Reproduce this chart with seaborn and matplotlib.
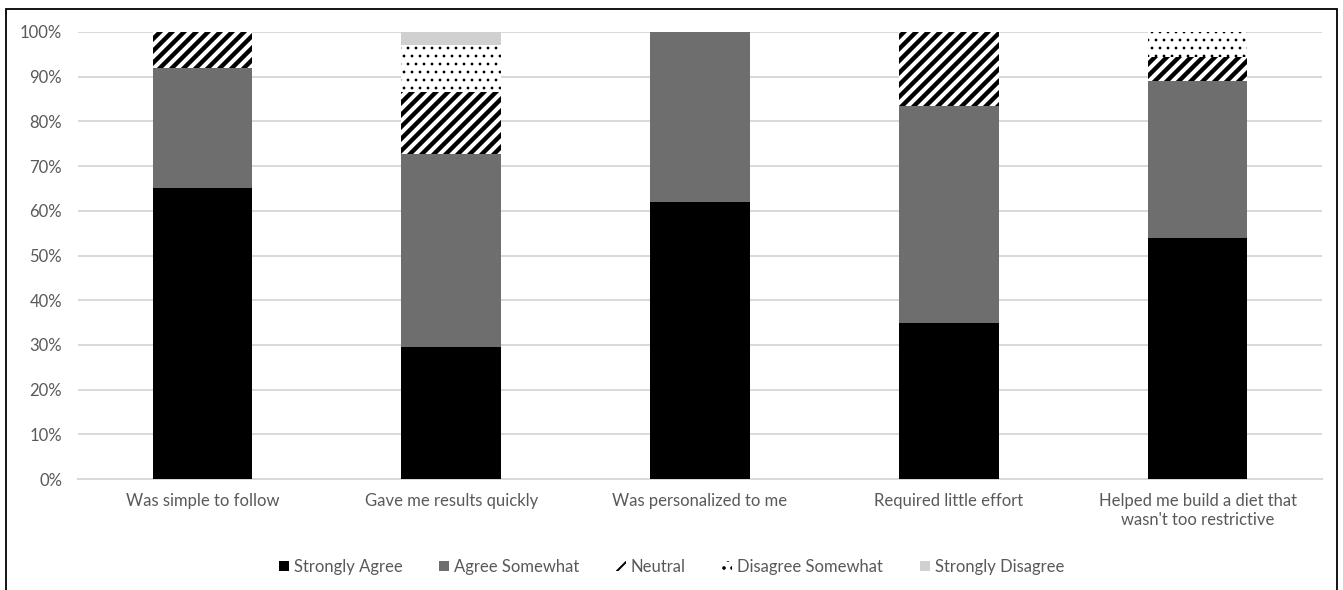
import matplotlib
matplotlib.use("Agg")
import matplotlib.pyplot as plt
from matplotlib.patches import Patch, Rectangle
from matplotlib.ticker import PercentFormatter, MultipleLocator
import seaborn as sns
import numpy as np

# Survey items and response shares (percent of respondents)
categories = [
    "Was simple to follow",
    "Gave me results quickly",
    "Was personalized to me",
    "Required little effort",
    "Helped me build a diet that\nwasn't too restrictive",
]
strongly_agree = [65.0, 29.5, 62.0, 35.0, 54.0]
agree_somewhat = [27.0, 43.3, 38.0, 48.5, 35.0]
neutral = [8.0, 13.7, 0.0, 16.5, 5.5]
disagree_somewhat = [0.0, 10.6, 0.0, 0.0, 5.5]
strongly_disagree = [0.0, 2.9, 0.0, 0.0, 0.0]

series_names = ["Strongly Agree", "Agree Somewhat", "Neutral",
                "Disagree Somewhat", "Strongly Disagree"]
series_values = [strongly_agree, agree_somewhat, neutral,
                 disagree_somewhat, strongly_disagree]

DPI = 144
W, H = 1343, 590
TEXT = "#595959"
GRID = "#d9d9d9"

sns.set_style("white")
plt.rcParams["font.family"] = ["Lato", "DejaVu Sans"]

styles = [
    dict(color="#000000", hatch=None, lw=1.0),
    dict(color="#6e6e6e", hatch=None, lw=1.0),
    dict(color="#ffffff", hatch="////", lw=2.2),
    dict(color="#ffffff", hatch="...", lw=0.6),
    dict(color="#d0d0d0", hatch=None, lw=1.0),
]

fig = plt.figure(figsize=(W / DPI, H / DPI), dpi=DPI)
ax = fig.add_axes([78 / W, 1 - 479 / H, (1322 - 78) / W, (479 - 32) / H])

bottom = np.zeros(len(categories))
for name, vals, st in zip(series_names, series_values, styles):
    vals = np.asarray(vals, dtype=float)
    with plt.rc_context({"hatch.linewidth": st["lw"]}):
        sns.barplot(
            x=categories, y=vals, bottom=bottom, ax=ax,
            color=st["color"], saturation=1, width=0.4,
            hatch=st["hatch"], edgecolor="black" if st["hatch"] else st["color"],
            linewidth=0, zorder=3,
        )
    bottom = bottom + vals

ax.set_ylim(0, 100)
ax.set_xlim(-0.5, len(categories) - 0.5)
ax.yaxis.set_major_locator(MultipleLocator(10))
ax.yaxis.set_major_formatter(PercentFormatter(decimals=0))
ax.grid(axis="y", color=GRID, linewidth=1.0, zorder=0)
ax.set_axisbelow(True)
for side in ["top", "right", "left"]:
    ax.spines[side].set_visible(False)
ax.spines["bottom"].set_color(GRID)
ax.spines["bottom"].set_linewidth(1.0)
ax.tick_params(axis="both", length=0, colors=TEXT, labelsize=8.3)
ax.tick_params(axis="y", pad=8)
ax.tick_params(axis="x", pad=7)
ax.set_xlabel("")
ax.set_ylabel("")

# Legend with small square keys
handles = []
for name, st in zip(series_names, styles):
    with plt.rc_context({"hatch.linewidth": st["lw"]}):
        handles.append(Patch(facecolor=st["color"], hatch=st["hatch"],
                             edgecolor="black" if st["hatch"] else st["color"],
                             linewidth=0, label=name))
fig.legend(handles=handles, loc="center", bbox_to_anchor=(0.5, 1 - 567 / H),
           ncol=5, frameon=False, fontsize=8.3, handlelength=0.6,
           handleheight=0.6, handletextpad=0.3, columnspacing=2.2,
           labelcolor=TEXT)

# Chart area border
fig.patches.append(Rectangle((6 / W, -0.05), (1337 - 6) / W, 1.05 - 9 / H,
                             transform=fig.transFigure, fill=False,
                             edgecolor="black", linewidth=0.9))

fig.savefig("out.png", dpi=DPI)
